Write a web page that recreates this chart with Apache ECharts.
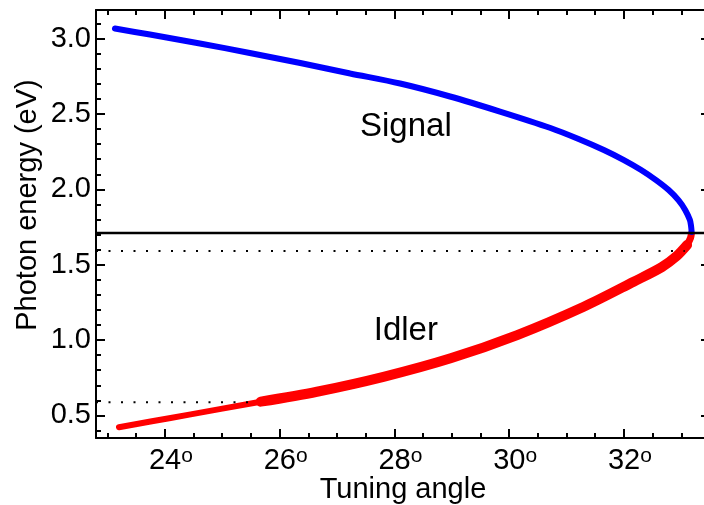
<!DOCTYPE html>
<html>
<head>
<meta charset="utf-8">
<script src="https://cdn.jsdelivr.net/npm/echarts@6/dist/echarts.min.js"></script>
<style>
html, body { margin: 0; padding: 0; background: #fff; }
#chart { width: 704px; height: 505px; }
</style>
</head>
<body>
<div id="chart"></div>
<script>
var chart = echarts.init(document.getElementById('chart'));

// signal branch: tuning angle (deg) / photon energy (eV)
var signalAngle = [23.13, 23.74, 24.61, 25.48, 26.36, 27.23, 28.10, 28.97, 29.84, 30.72, 31.21, 31.65, 32.00, 32.30, 32.56, 32.78, 32.95, 33.07, 33.15, 33.17, 33.18];
var signalEnergy = [3.067, 3.027, 2.968, 2.905, 2.838, 2.769, 2.702, 2.616, 2.516, 2.407, 2.334, 2.261, 2.194, 2.128, 2.061, 1.995, 1.928, 1.862, 1.796, 1.756, 1.717];

// idler branch
var idlerAngle = [23.2, 23.75, 24.45, 25.67, 26.65, 27.81, 28.98, 30.14, 31.30, 32.17, 32.66, 32.92, 33.10, 33.16, 33.18];
var idlerEnergy = [0.421, 0.459, 0.507, 0.591, 0.657, 0.756, 0.879, 1.033, 1.221, 1.387, 1.484, 1.557, 1.630, 1.677, 1.717];
// idler drawn heavier between these angles
var idlerThickFrom = 25.67;
var idlerThickTo = 33.10;

// reference levels
var degenerateLevel = 1.71;
var upperDotted = [[22.8, 1.591], [33.06, 1.591]];
var lowerDotted = [[22.8, 0.587], [25.6, 0.587]];

// annotations
var curveNames = [[28.2, 2.417, 'Signal'], [28.2, 1.061, 'Idler']];

// ticks
var angleMajor = [24, 26, 28, 30, 32];
var angleMinor = [23, 23.5, 24, 24.5, 25, 25.5, 26, 26.5, 27, 27.5, 28, 28.5, 29, 29.5, 30, 30.5, 31, 31.5, 32, 32.5, 33];
var energyMajor = [0.5, 1.0, 1.5, 2.0, 2.5, 3.0];
var energyMinor = [0.4, 0.5, 0.6, 0.7, 0.8, 0.9, 1.0, 1.1, 1.2, 1.3, 1.4, 1.5, 1.6, 1.7, 1.8, 1.9, 2.0, 2.1, 2.2, 2.3, 2.4, 2.5, 2.6, 2.7, 2.8, 2.9, 3.0, 3.1];

var FONT = '"Liberation Sans", Arial, sans-serif';

function zip(a, b) {
    return a.map(function (v, i) { return [v, b[i]]; });
}

var idlerAll = zip(idlerAngle, idlerEnergy);
var idlerStart = idlerAll.filter(function (p) { return p[0] <= idlerThickFrom; });
var idlerThick = idlerAll.filter(function (p) { return p[0] >= idlerThickFrom && p[0] <= idlerThickTo; });
var idlerEnd = idlerAll.filter(function (p) { return p[0] >= idlerThickTo; });

function xAx(pos, ticks, len, withLine, withLabel) {
    return {
        type: 'value', position: pos, min: 22.8, max: 33.5,
        axisLine: { show: withLine, onZero: false, lineStyle: { color: '#000', width: 2 } },
        axisTick: { show: true, inside: true, length: len, customValues: ticks, lineStyle: { color: '#000', width: 2 } },
        axisLabel: withLabel ? {
            show: true, margin: 8, customValues: angleMajor,
            formatter: function (v) { return '{p|}{n|' + v + '}{d|o}'; },
            rich: {
                p: { width: 12 },
                n: { fontSize: 29, fontFamily: FONT, color: '#000', lineHeight: 30 },
                d: { fontSize: 21, fontFamily: FONT, color: '#000', verticalAlign: 'top', lineHeight: 14 }
            }
        } : { show: false },
        splitLine: { show: false },
        name: withLabel ? 'Tuning angle' : '',
        nameLocation: 'middle', nameGap: 37, nameMoveOverlap: false,
        nameTextStyle: { fontSize: 29, fontFamily: FONT, color: '#000' }
    };
}

function yAx(pos, ticks, len, withLine, withLabel) {
    return {
        type: 'value', position: pos, min: 0.35, max: 3.19,
        axisLine: { show: withLine, onZero: false, lineStyle: { color: '#000', width: 2 } },
        axisTick: { show: true, inside: true, length: len, customValues: ticks, lineStyle: { color: '#000', width: 2 } },
        axisLabel: withLabel ? {
            show: true, margin: 5, customValues: energyMajor,
            fontSize: 29, fontFamily: FONT, color: '#000',
            formatter: function (v) { return v.toFixed(1); }
        } : { show: false },
        splitLine: { show: false },
        name: withLabel ? 'Photon energy (eV)' : '',
        nameLocation: 'middle', nameGap: 54, nameRotate: 90, nameMoveOverlap: false,
        nameTextStyle: { fontSize: 29, fontFamily: FONT, color: '#000', padding: [0, 0, 0, 38] }
    };
}

var option = {
    animation: false,
    backgroundColor: '#fff',
    grid: { left: 96, right: -6, top: 10, bottom: 67, containLabel: false, outerBoundsMode: 'none' },
    xAxis: [
        xAx('bottom', angleMinor, 5, true, true),
        xAx('bottom', angleMajor, 9, false, false),
        xAx('top', angleMinor, 5, true, false),
        xAx('top', angleMajor, 9, false, false)
    ],
    yAxis: [
        yAx('left', energyMinor, 5, true, true),
        yAx('left', energyMajor, 9, false, false),
        yAx('right', energyMinor, 5, true, false),
        yAx('right', energyMajor, 9, false, false)
    ],
    series: [
        {
            type: 'line', name: 'Idler', data: idlerStart,
            showSymbol: false, smooth: 0.3,
            lineStyle: { color: '#ff0000', width: 6, cap: 'round' }
        },
        {
            type: 'line', name: 'Idler', data: idlerThick,
            showSymbol: false, smooth: 0.3,
            lineStyle: { color: '#ff0000', width: 10, cap: 'round' }
        },
        {
            type: 'line', name: 'Idler', data: idlerEnd,
            showSymbol: false, smooth: 0.3,
            lineStyle: { color: '#ff0000', width: 7, cap: 'butt' }
        },
        {
            type: 'line', name: 'Signal', data: zip(signalAngle, signalEnergy),
            showSymbol: false, smooth: 0.3, z: 3,
            lineStyle: { color: '#0000ff', width: 6, cap: 'round' }
        },
        {
            type: 'line', data: [[22.8, degenerateLevel], [33.5, degenerateLevel]],
            showSymbol: false, z: 5,
            lineStyle: { color: '#000', width: 2.5 }
        },
        {
            type: 'line', data: upperDotted, showSymbol: false, z: 5,
            lineStyle: { color: '#000', width: 2, type: [2, 10.5] }
        },
        {
            type: 'line', data: lowerDotted, showSymbol: false, z: 5,
            lineStyle: { color: '#000', width: 2, type: [2, 10.5] }
        },
        {
            type: 'scatter', data: curveNames, symbolSize: 0, z: 6,
            itemStyle: { opacity: 1 },
            label: {
                show: true, position: 'inside', opacity: 1,
                formatter: function (p) { return p.data[2]; },
                fontSize: 33, fontFamily: FONT, color: '#000',
                textBorderWidth: 0
            }
        }
    ]
};

chart.setOption(option);
</script>
</body>
</html>
